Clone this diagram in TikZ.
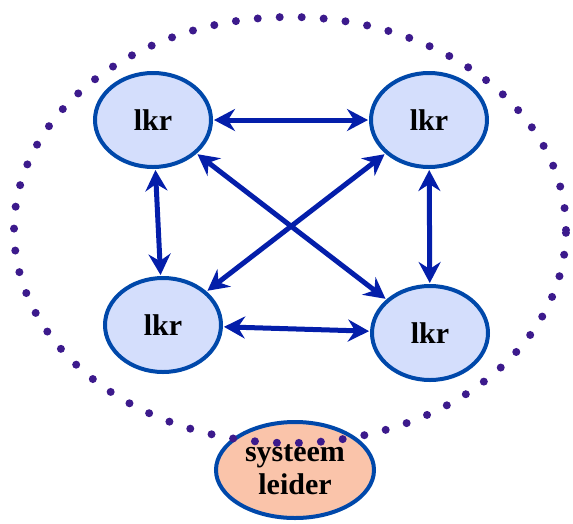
\documentclass[tikz,border=0pt]{standalone}
\usepackage{fontspec}
\setmainfont{Liberation Serif}
\usepackage{tikz}
\usetikzlibrary{shapes.geometric,arrows.meta}
\usepackage{xcolor}

\definecolor{lkrfill}{RGB}{212,222,252}
\definecolor{lkrline}{RGB}{0,72,170}
\definecolor{linkblue}{RGB}{4,30,170}
\definecolor{dotpurple}{RGB}{60,26,140}
\definecolor{leiderfill}{RGB}{250,196,170}

\tikzset{
  lkrnode/.style={ellipse,draw=lkrline,fill=lkrfill,line width=4pt,
    minimum width=116pt,minimum height=94pt,inner sep=0pt,
    font=\bfseries\fontsize{30}{33}\selectfont},
  leidernode/.style={lkrnode,fill=leiderfill,minimum width=158pt,
    minimum height=96pt,align=center},
  link/.style={linkblue,line width=5pt,
    {Stealth[length=21pt,width=22pt,inset=7pt]}-{Stealth[length=21pt,width=22pt,inset=7pt]},
    shorten <=1pt,shorten >=1pt},
  dots/.style={dotpurple,line width=8pt,line cap=round,
    dash pattern=on 0pt off 22pt}
}

\begin{document}
\begin{tikzpicture}[x=1pt,y=-1pt]
  \useasboundingbox (0,0) rectangle (573,523);

  % teachers -------------------------------------------------------------------
  \node[lkrnode] (lkrTL) at (153,120) {lkr};
  \node[lkrnode] (lkrTR) at (429,120) {lkr};
  \node[lkrnode] (lkrBL) at (163,325) {lkr};
  \node[lkrnode] (lkrBR) at (430,333) {lkr};

  % every teacher talks to every other one
  \draw[link] (lkrTL) -- (lkrTR);
  \draw[link] (lkrBL) -- (lkrBR);
  \draw[link] (lkrTL) -- (lkrBL);
  \draw[link] (lkrTR) -- (lkrBR);
  \draw[link] (lkrTL) -- (lkrBR);
  \draw[link] (lkrTR) -- (lkrBL);

  %----------------------------------------------------------------------------%
  %  leader, sitting on the border of the team  -------------------------------%
  \node[leidernode] (leider) at (295,470) {systeem\\leider};

  \draw[dots] (290,230) ellipse [x radius=276pt,y radius=213pt];
\end{tikzpicture}
\end{document}
